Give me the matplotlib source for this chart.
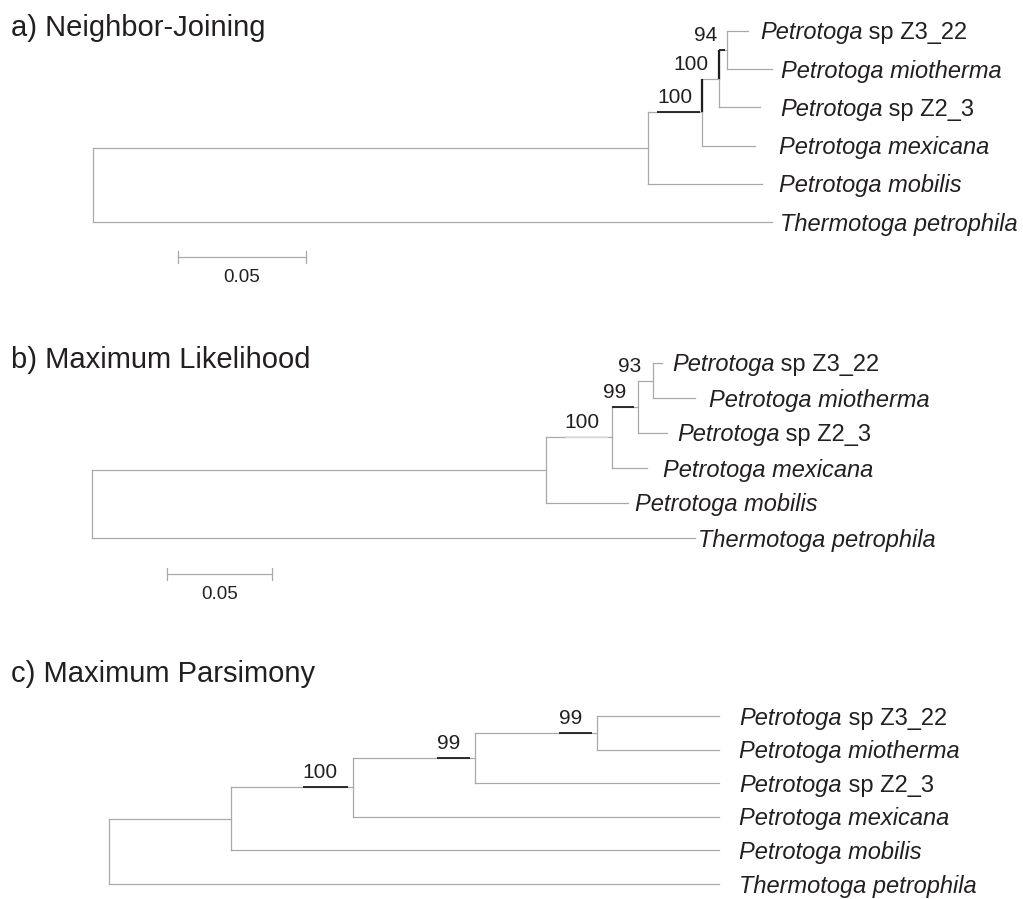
import matplotlib
matplotlib.use("Agg")
import matplotlib.pyplot as plt

plt.rcParams["font.family"] = ["Liberation Sans", "DejaVu Sans"]

# ---------------------------------------------------------------- data
# Taxa: italic genus/species part followed by an upright strain part
taxa_italic = ["Petrotoga", "Petrotoga miotherma", "Petrotoga",
               "Petrotoga mexicana", "Petrotoga mobilis", "Thermotoga petrophila"]
taxa_upright = [" sp Z3_22", "", " sp Z2_3", "", "", ""]

# Topology shared by the three reconstructions (tip indices into taxa_*)
tree = (((((0, 1), 2), 3), 4), 5)

panel_titles = ["a) Neighbor-Joining", "b) Maximum Likelihood", "c) Maximum Parsimony"]

# Branch lengths (substitutions/site); inner nodes listed in post-order:
# (Z3_22,miotherma), (+Z2_3), (+mexicana), (+mobilis)
nj_tip_lengths = [0.0082, 0.0176, 0.0160, 0.0207, 0.0445, 0.2652]
nj_node_lengths = [0.0031, 0.0066, 0.0211, 0.2168]
ml_tip_lengths = [0.0043, 0.0200, 0.0138, 0.0167, 0.0390, 0.2871]
ml_node_lengths = [0.0071, 0.0124, 0.0314, 0.2162]

# Bootstrap support for the inner nodes (same post-order)
nj_support = [94, 100, 100, None]
ml_support = [93, 99, 100, None]
mp_support = [99, 99, 100, None]

scale_bar_value = 0.05
scale_bar_label = "0.05"

# ---------------------------------------------------------------- style / layout
LINE = "#a9a9a9"
DARK = "#1e1e1e"
LIGHT = "#dedede"
TEXT = "#231f20"
TIP_FS = 17
SUP_FS = 15
TITLE_FS = 21

panels = [
    dict(title_y=36, root_x=93, ppu=2560, tip_y0=31, dy=38.2,
         tips=nj_tip_lengths, nodes=nj_node_lengths, support=nj_support,
         marks=[["under"], ["rise"], ["under", "rise"], []],
         label_gap=[12, 9, 20, 24, 17, 8], sup_gap=10, under_end=2,
         bar=(178, 257)),
    dict(title_y=368, root_x=92, ppu=2100, tip_y0=363, dy=35.0,
         tips=ml_tip_lengths, nodes=ml_node_lengths, support=ml_support,
         marks=[[], ["under"], ["under_light"], []],
         label_gap=[10, 14, 10, 16, 7, 3], sup_gap=12, under_end=4,
         bar=(167, 574)),
    dict(title_y=682, root_x=109, step=122, tip_y0=716, dy=33.6,
         tips=None, nodes=None, support=mp_support,
         marks=[["under"], ["under"], ["under"], []],
         label_gap=[20] * 6, sup_gap=15, under_end=5,
         bar=None),
]

fig = plt.figure(figsize=(10.23, 8.99), dpi=100)
ax = fig.add_axes([0, 0, 1, 1])
ax.set_xlim(0, 1023)
ax.set_ylim(899, 0)
ax.axis("off")

# post-order list of inner nodes
inner_order = []


def collect(node):
    if isinstance(node, int):
        return
    for ch in node:
        collect(ch)
    inner_order.append(node)


collect(tree)
root_node = inner_order[-1]


def depth_of_tips(node, d=0):
    if isinstance(node, int):
        return d
    return max(depth_of_tips(ch, d + 1) for ch in node)


max_depth = depth_of_tips(tree)


def layout(p):
    pos = {}

    def rec(node, parent_x, depth):
        if isinstance(node, int):
            if p["tips"] is None:
                x = p["root_x"] + max_depth * p["step"]
            else:
                x = parent_x + p["tips"][node] * p["ppu"]
            y = p["tip_y0"] + node * p["dy"]
            pos[node] = (x, y, parent_x)
            return y
        if node is root_node:
            x = p["root_x"]
        elif p["nodes"] is None:
            x = p["root_x"] + depth * p["step"]
        else:
            x = parent_x + p["nodes"][inner_order.index(node)] * p["ppu"]
        ys = [rec(ch, x, depth + 1) for ch in node]
        y = (ys[0] + ys[-1]) / 2
        pos[node] = (x, y, parent_x)
        return y

    rec(tree, p["root_x"], 0)
    return pos


fig.canvas.draw()
renderer = fig.canvas.get_renderer()

for p, title in zip(panels, panel_titles):
    ax.text(11, p["title_y"], title, fontsize=TITLE_FS, color=TEXT,
            ha="left", va="baseline")
    pos = layout(p)

    # branches
    for node, (x, y, px) in pos.items():
        if node is not root_node:
            ax.plot([px, x], [y, y], color=LINE, lw=0.9, solid_capstyle="projecting")
        if not isinstance(node, int):
            y_top = pos[node[0]][1]
            y_bot = pos[node[-1]][1]
            ax.plot([x, x], [y_top, y_bot], color=LINE, lw=0.9, solid_capstyle="projecting")

    # tip labels
    for i in range(len(taxa_italic)):
        x, y, _ = pos[i]
        lx = x + p["label_gap"][i]
        ly = y + 8.5
        t = ax.text(lx, ly, taxa_italic[i], fontsize=TIP_FS, style="italic",
                    color=TEXT, ha="left", va="baseline")
        if taxa_upright[i]:
            bb = t.get_window_extent(renderer)
            ax.text(bb.x1, ly, taxa_upright[i], fontsize=TIP_FS, color=TEXT,
                    ha="left", va="baseline")

    # bootstrap values and their branch highlights
    for k, node in enumerate(inner_order[:-1]):
        val = p["support"][k]
        if val is None:
            continue
        x, y, px = pos[node]
        t = ax.text(x - p["sup_gap"], y - 9, str(val), fontsize=SUP_FS,
                    color=TEXT, ha="right", va="baseline")
        bb = t.get_window_extent(renderer)
        for m in p["marks"][k]:
            if m in ("under", "under_light"):
                x0 = max(px, bb.x0)
                ax.plot([x0, x - p["under_end"]], [y, y],
                        color=DARK if m == "under" else LIGHT,
                        lw=1.3, solid_capstyle="butt", zorder=3)
            elif m == "rise":
                y_up = pos[node[0]][1]
                ax.plot([x, x], [y, y_up], color=DARK, lw=1.6,
                        solid_capstyle="butt", zorder=3)

    # scale bar
    if p["bar"] is not None:
        bx, by = p["bar"]
        bx1 = bx + scale_bar_value * p["ppu"]
        ax.plot([bx, bx1], [by, by], color=LINE, lw=0.9)
        for xx in (bx, bx1):
            ax.plot([xx, xx], [by - 6, by + 6], color=LINE, lw=0.9)
        ax.text((bx + bx1) / 2, by + 25, scale_bar_label, fontsize=13.5,
                color=TEXT, ha="center", va="baseline")

fig.savefig("out.png", dpi=100, facecolor="white")
